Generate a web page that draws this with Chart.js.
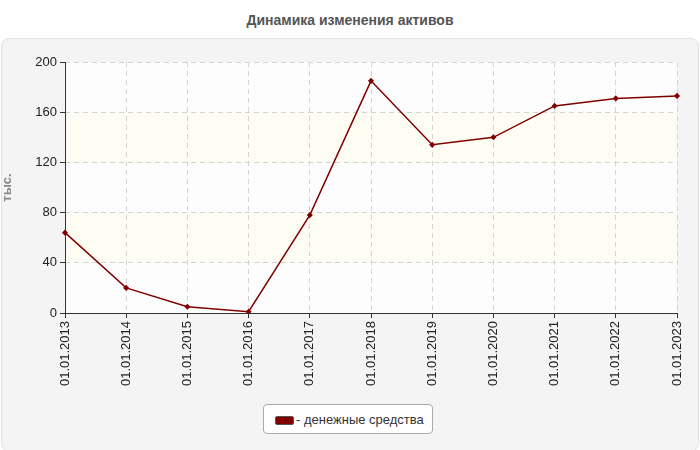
<!DOCTYPE html>
<html><head><meta charset="utf-8">
<script src="https://cdn.jsdelivr.net/npm/chart.js@4"></script>
<style>
body{margin:0;width:700px;height:450px;background:#fff;font-family:Arial,"Liberation Sans",sans-serif;position:relative;overflow:hidden}
#title{position:absolute;top:12px;left:0;width:700px;text-align:center;font-weight:bold;font-size:14px;color:#555}
#panel{position:absolute;left:1px;top:38px;width:696px;height:412px;background:#f4f4f4;border:1px solid #e2e2e2;border-radius:8px}
#wrap{position:absolute;left:0;top:0;width:700px;height:390px}
#legend{position:absolute;left:263px;top:404px;width:170px;height:30px;border:1px solid #aaa;border-radius:4px;background:#fff;font-size:13px;color:#333;line-height:29px;box-sizing:border-box;padding-left:11px}
#legend span{display:inline-block;width:17px;height:7px;background:#800000;border:1px solid #555;border-radius:2px;vertical-align:middle;margin-right:2px}
</style></head><body>
<div id="title">Динамика изменения активов</div>
<div id="panel"></div>
<div id="wrap"><canvas id="c" width="700" height="390"></canvas></div>
<div id="legend"><span></span>- денежные средства</div>
<script>
const categories=["01.01.2013","01.01.2014","01.01.2015","01.01.2016","01.01.2017","01.01.2018","01.01.2019","01.01.2020","01.01.2021","01.01.2022","01.01.2023"];
const values=[64,20,5,1,78,185,134,140,165,171,173];
const yTicks=[0,40,80,120,160,200];
const bands={id:'bands',beforeDraw(ch){const {ctx,chartArea:a,scales:{y}}=ch;ctx.save();
for(let i=0;i<yTicks.length-1;i++){const t=y.getPixelForValue(yTicks[i+1]),b=y.getPixelForValue(yTicks[i]);
ctx.fillStyle=(i%2===0)?'#ffffff':'#fffff5';ctx.fillRect(a.left,t,a.right-a.left,b-t);}
ctx.beginPath();ctx.rect(a.left,a.top,a.right-a.left,a.bottom-a.top);ctx.clip();ctx.strokeStyle='rgba(0,0,0,0.03)';ctx.lineWidth=1;
for(let x=a.left-400;x<a.right;x+=4){ctx.beginPath();ctx.moveTo(x,a.bottom);ctx.lineTo(x+(a.bottom-a.top),a.top);ctx.stroke();}
ctx.restore();},
beforeDatasetsDraw(ch){const {ctx,chartArea:a}=ch;ctx.save();ctx.strokeStyle='#333';ctx.lineWidth=1;ctx.beginPath();
ctx.moveTo(a.left+0.5,a.top);ctx.lineTo(a.left+0.5,a.bottom+0.5);ctx.lineTo(a.right,a.bottom+0.5);ctx.stroke();ctx.restore();}};
new Chart(document.getElementById('c'),{type:'line',
data:{labels:categories,datasets:[{data:values,borderColor:'#800000',backgroundColor:'#800000',borderWidth:1.5,pointStyle:'rectRot',pointRadius:2,tension:0}]},
options:{responsive:false,animation:false,layout:{padding:{left:0,right:23,top:62,bottom:0}},
plugins:{legend:{display:false},tooltip:{enabled:false}},
scales:{
y:{min:0,max:200,afterFit(s){s.width=65},afterBuildTicks(s){s.ticks=yTicks.map(v=>({value:v}))},
ticks:{color:'#222',font:{size:13,family:'Arial'},padding:3},
title:{display:true,text:'тыс.',color:'#888',font:{size:13,weight:'bold',family:'Arial'},padding:{top:0,bottom:4}},
grid:{color:'#d4d4d4',tickColor:'#333',tickLength:5},border:{display:false,dash:[5,4]}},
x:{offset:false,afterFit(s){s.height=77},ticks:{color:'#222',font:{size:13,family:'Arial'},maxRotation:90,minRotation:90,autoSkip:false},
grid:{color:'#d4d4d4',tickColor:'#333',tickLength:5},border:{display:false,dash:[5,4]}}}},
plugins:[bands]});
</script></body></html>
